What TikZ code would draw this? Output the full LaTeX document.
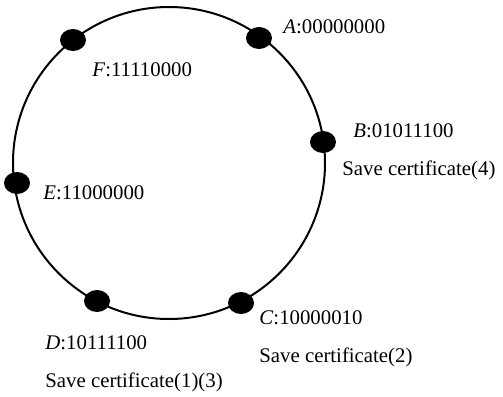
\documentclass[tikz,border=0pt]{standalone}
\usepackage{fontspec}
\setmainfont{Liberation Serif}
\usetikzlibrary{shapes.geometric,positioning}

\begin{document}
\begin{tikzpicture}[%
	x=0.5pt,y=-0.5pt,
	ring/.style={line width=1pt},
	peer/.style={ellipse,fill=black,inner sep=0pt,minimum width=13pt,minimum height=11pt},
	lbl/.style={inner sep=0pt,anchor=base west,font=\fontsize{10.4}{12}\selectfont}]

	\useasboundingbox (0,0) rectangle (503,396);

	\draw[ring] (169,163) circle[radius=156];

	\node[peer] (A) at (259,38)  {};
	\node[peer] (B) at (323,142) {};
	\node[peer] (C) at (241,303) {};
	\node[peer] (D) at (97,301)  {};
	\node[peer] (E) at (17,183)  {};
	\node[peer] (F) at (73,40)   {};

	\node[lbl] (lA) at (283,33.5)  {\textit{A}:00000000};
	\node[lbl] (lB) at (353,137.7) {\textit{B}:01011100};
	\node[lbl] (lC) at (259,324.3) {\textit{C}:10000010};
	\node[lbl] (lD) at (45,349.3)  {\textit{D}:10111100};
	\node[lbl] (lE) at (43,199)    {\textit{E}:11000000};
	\node[lbl] (lF) at (92,76)     {\textit{F}:11110000};

	\node[lbl] (sB) at ([xshift=-5.5pt,yshift=-19pt]lB.base west) {Save certificate(4)};
	\node[lbl] (sC) at ([yshift=-19pt]lC.base west) {Save certificate(2)};
	\node[lbl] (sD) at ([yshift=-19.2pt]lD.base west) {Save certificate(1)(3)};

\end{tikzpicture}
\end{document}
